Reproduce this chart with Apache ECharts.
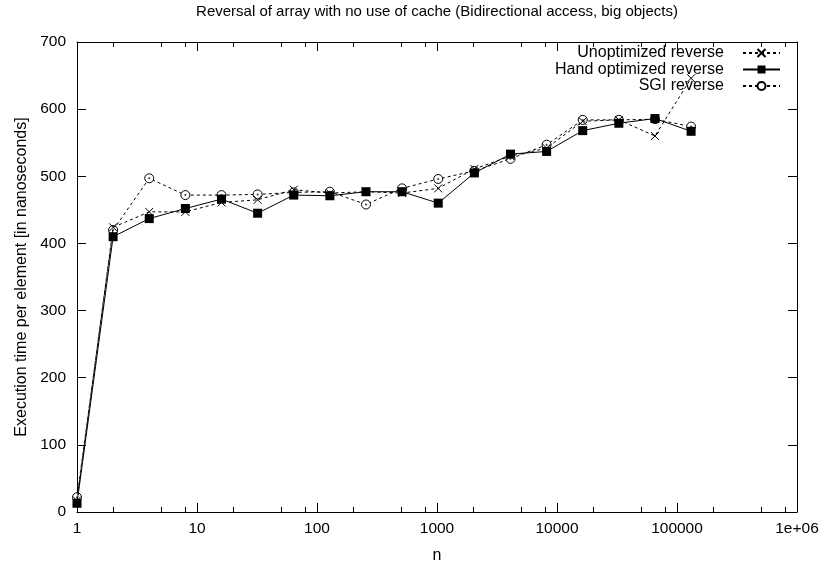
<!DOCTYPE html>
<html>
<head>
<meta charset="utf-8">
<script src="https://cdn.jsdelivr.net/npm/echarts@6/dist/echarts.min.js"></script>
<style>
html,body{margin:0;padding:0;background:#fff;}
#chart{width:824px;height:569px;}
</style>
</head>
<body>
<div id="chart"></div>
<script>
// Data
const nValues = [1, 2, 4, 8, 16, 32, 64, 128, 256, 512, 1024, 2048, 4096, 8192, 16384, 32768, 65536, 131072];
const unoptimized = [17, 424, 447, 447, 461, 465, 480, 475, 477, 475, 482, 511, 530, 542, 582, 584, 560, 646];
const handOptimized = [13, 410, 437, 452, 466, 445, 472, 471, 477, 477, 460, 505, 533, 537, 568, 579, 586, 567];
const sgi = [22, 420, 497, 472, 472, 473, 476, 477, 458, 482, 496, 508, 526, 547, 584, 584, 585, 574];
const seriesNames = ['Unoptimized reverse', 'Hand optimized reverse', 'SGI reverse'];
const minorTicks = [2, 5, 8, 20, 50, 80, 200, 500, 800, 2000, 5000, 8000, 20000, 50000, 80000, 200000, 500000, 800000];
const titleText = 'Reversal of array with no use of cache (Bidirectional access, big objects)';
const xTitle = 'n';
const yTitle = 'Execution time per element [in nanoseconds]';

const pair = arr => nValues.map((n, i) => [n, arr[i]]);
const FONT = 'Liberation Sans';
const black = '#000';

const baseX = {
  type: 'log', logBase: 10, min: 1, max: 1e6,
  splitLine: {show: false},
  axisLine: {show: true, lineStyle: {color: black, width: 1}},
  axisTick: {show: true, inside: true, length: 9, lineStyle: {color: black}},
  axisLabel: {show: false}
};

const chart = echarts.init(document.getElementById('chart'), null, {renderer: 'canvas'});
chart.setOption({
  backgroundColor: '#fff',
  animation: false,
  title: {
    text: titleText, left: 437, top: 4, textAlign: 'center', padding: 0,
    textStyle: {fontFamily: FONT, fontSize: 15, fontWeight: 'normal', color: black}
  },
  legend: {
    orient: 'vertical', right: 43, top: 45, align: 'right',
    itemWidth: 37, itemHeight: 10, itemGap: 0.5, padding: 0,
    textStyle: {fontFamily: FONT, fontSize: 16, color: black, padding: [0, 14, 0, 0]},
    data: seriesNames
  },
  grid: {left: 77, right: 27, top: 42, bottom: 54, containLabel: false},
  xAxis: [
    Object.assign({}, baseX, {
      position: 'bottom', name: xTitle, nameLocation: 'middle', nameGap: 36,
      nameTextStyle: {fontFamily: FONT, fontSize: 16, color: black},
      axisLabel: {show: true, margin: 9, fontFamily: FONT, fontSize: 15.5, color: black,
        formatter: v => v >= 1e6 ? '1e+06' : String(Math.round(v))}
    }),
    Object.assign({}, baseX, {position: 'bottom', axisLine: {show: false},
      axisTick: {show: true, inside: true, length: 5, lineStyle: {color: black}, customValues: minorTicks}}),
    Object.assign({}, baseX, {position: 'top'}),
    Object.assign({}, baseX, {position: 'top', axisLine: {show: false},
      axisTick: {show: true, inside: true, length: 5, lineStyle: {color: black}, customValues: minorTicks}})
  ],
  yAxis: [
    {
      type: 'value', min: 0, max: 700, interval: 100, position: 'left',
      name: yTitle, nameLocation: 'middle', nameGap: 47, nameRotate: 90,
      nameTextStyle: {fontFamily: FONT, fontSize: 16, color: black},
      splitLine: {show: false},
      axisLine: {show: true, lineStyle: {color: black}},
      axisTick: {show: true, inside: true, length: 9, lineStyle: {color: black}},
      axisLabel: {fontFamily: FONT, fontSize: 15.5, color: black, margin: 11}
    },
    {
      type: 'value', min: 0, max: 700, interval: 100, position: 'right',
      splitLine: {show: false},
      axisLine: {show: true, lineStyle: {color: black}},
      axisTick: {show: true, inside: true, length: 9, lineStyle: {color: black}},
      axisLabel: {show: false}
    }
  ],
  series: [
    {
      name: seriesNames[0], type: 'line', xAxisIndex: 0, yAxisIndex: 0,
      data: pair(unoptimized),
      symbol: 'path://M0,0L10,10M10,0L0,10', symbolSize: 8,
      itemStyle: {color: 'rgba(0,0,0,0)', borderColor: black, borderWidth: 1},
      lineStyle: {color: black, width: 1, type: [3, 3]},
      z: 3
    },
    {
      name: seriesNames[1], type: 'line', xAxisIndex: 0, yAxisIndex: 0,
      data: pair(handOptimized),
      symbol: 'rect', symbolSize: 9,
      itemStyle: {color: black, borderColor: black, borderWidth: 0},
      lineStyle: {color: black, width: 1, type: 'solid'},
      z: 4
    },
    {
      name: seriesNames[2], type: 'line', xAxisIndex: 0, yAxisIndex: 0,
      data: pair(sgi),
      symbol: 'circle', symbolSize: 9,
      itemStyle: {color: '#fff', borderColor: black, borderWidth: 1},
      lineStyle: {color: black, width: 1, type: [3, 3]},
      z: 2
    },
    {
      name: 'SGI centre dots', type: 'scatter', xAxisIndex: 0, yAxisIndex: 0,
      data: pair(sgi), symbol: 'circle', symbolSize: 2,
      itemStyle: {color: black}, silent: true, z: 2.5
    }
  ]
});
</script>
</body>
</html>
